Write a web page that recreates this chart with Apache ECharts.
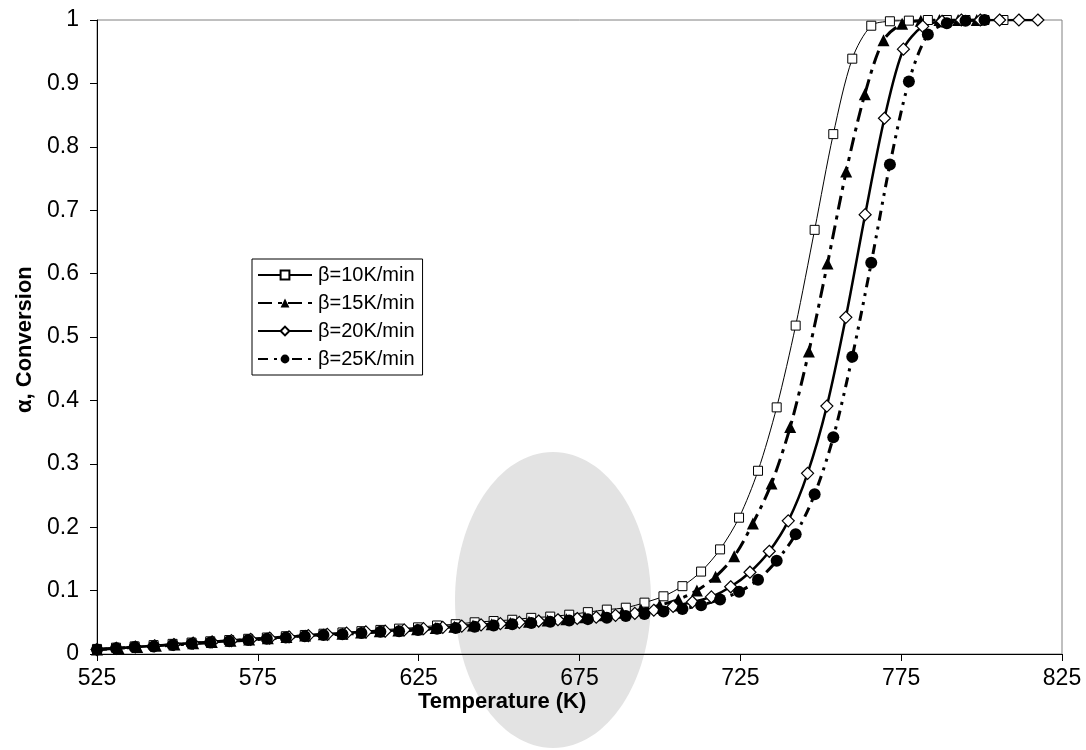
<!DOCTYPE html>
<html>
<head>
<meta charset="utf-8">
<script src="https://cdn.jsdelivr.net/npm/echarts@6/dist/echarts.min.js"></script>
<style>html,body{margin:0;padding:0;background:#fff;}#c{width:1086px;height:750px;}</style>
</head>
<body>
<div id="c"></div>
<script>
// ---- data ----
const seriesNames = ['β=10K/min', 'β=15K/min', 'β=20K/min', 'β=25K/min'];
const xTicks = [525, 575, 625, 675, 725, 775, 825];
const yTicks = [0, 0.1, 0.2, 0.3, 0.4, 0.5, 0.6, 0.7, 0.8, 0.9, 1];

const temp10 = [525.0,530.9,536.7,542.6,548.5,554.4,560.2,566.1,572.0,577.8,583.7,589.6,595.4,601.3,607.2,613.1,618.9,624.8,630.7,636.5,642.4,648.3,654.1,660.0,665.9,671.8,677.6,683.5,689.4,695.2,701.1,707.0,712.8,718.7,724.6,730.5,736.3,742.2,748.1,753.9,759.8,765.7,771.5,777.4,783.3,789.2,795.0,800.9,806.8];
const alpha10 = [0.008,0.010,0.012,0.014,0.016,0.018,0.020,0.022,0.024,0.026,0.028,0.030,0.032,0.034,0.036,0.038,0.040,0.042,0.045,0.047,0.050,0.052,0.054,0.057,0.059,0.062,0.066,0.070,0.073,0.081,0.091,0.107,0.130,0.165,0.215,0.289,0.389,0.518,0.669,0.820,0.939,0.991,0.998,0.999,1.0,1.0,1.0,1.0,1.0];

const temp15 = [525.0,531.7,537.5,543.3,549.1,554.9,560.7,566.5,572.3,578.1,583.9,589.7,595.5,601.3,607.1,612.9,618.7,624.5,630.3,636.1,641.9,647.7,653.5,659.3,665.1,670.9,676.7,682.5,688.3,694.1,699.9,705.7,711.5,717.3,723.1,728.9,734.7,740.5,746.3,752.1,757.9,763.7,769.5,775.3,781.1,786.9,792.7,798.5];
const alpha15 = [0.007,0.009,0.011,0.013,0.015,0.017,0.019,0.021,0.023,0.025,0.027,0.029,0.031,0.032,0.034,0.036,0.037,0.039,0.041,0.043,0.045,0.047,0.049,0.051,0.053,0.055,0.058,0.061,0.065,0.070,0.077,0.086,0.100,0.122,0.154,0.206,0.269,0.358,0.477,0.616,0.761,0.883,0.968,0.994,0.999,1.0,1.0,1.0];

const temp20 = [525.0,531.0,536.9,542.9,548.9,554.9,560.8,566.8,572.8,578.7,584.7,590.7,596.6,602.6,608.6,614.6,620.5,626.5,632.5,638.4,644.4,650.4,656.3,662.3,668.3,674.3,680.2,686.2,692.2,698.1,704.1,710.1,716.0,722.0,728.0,734.0,739.9,745.9,751.9,757.8,763.8,769.8,775.7,781.7,787.7,793.7,799.6,805.6,811.6,817.5];
const alpha20 = [0.007,0.009,0.011,0.013,0.015,0.017,0.019,0.021,0.023,0.025,0.027,0.029,0.031,0.033,0.035,0.036,0.038,0.040,0.042,0.044,0.046,0.048,0.050,0.052,0.054,0.056,0.058,0.061,0.064,0.069,0.075,0.082,0.090,0.106,0.129,0.162,0.210,0.285,0.391,0.531,0.693,0.845,0.954,0.990,0.998,1.0,1.0,1.0,1.0,1.0];

const temp25 = [525.0,530.9,536.7,542.6,548.5,554.4,560.2,566.1,572.0,577.8,583.7,589.6,595.4,601.3,607.2,613.1,618.9,624.8,630.7,636.5,642.4,648.3,654.1,660.0,665.9,671.8,677.6,683.5,689.4,695.2,701.1,707.0,712.8,718.7,724.6,730.5,736.3,742.2,748.1,753.9,759.8,765.7,771.5,777.4,783.3,789.2,795.0,800.9];
const alpha25 = [0.007,0.009,0.011,0.012,0.014,0.016,0.018,0.020,0.022,0.024,0.026,0.028,0.030,0.031,0.033,0.035,0.036,0.038,0.040,0.041,0.043,0.045,0.047,0.049,0.051,0.053,0.055,0.057,0.060,0.063,0.067,0.071,0.077,0.086,0.098,0.117,0.147,0.189,0.252,0.342,0.469,0.617,0.772,0.903,0.977,0.995,0.999,1.0];

function pairs(xs, ys) { return xs.map((x, i) => [x, ys[i]]); }

const FONT = 'Liberation Sans, Arial, sans-serif';
const chart = echarts.init(document.getElementById('c'), null, { renderer: 'canvas' });

const option = {
  backgroundColor: '#ffffff',
  animation: false,
  textStyle: { fontFamily: FONT, color: '#000' },
  grid: { left: 97, right: 24, top: 20, bottom: 96, show: true, borderColor: '#808080', borderWidth: 1, backgroundColor: 'transparent' },
  xAxis: {
    type: 'value', min: xTicks[0], max: xTicks[xTicks.length - 1], interval: xTicks[1] - xTicks[0],
    axisLine: { show: true, lineStyle: { color: '#000', width: 1 } },
    axisTick: { show: true, inside: false, length: 7, lineStyle: { color: '#000' } },
    splitLine: { show: false },
    axisLabel: { color: '#000', fontSize: 23, fontFamily: FONT, margin: 13 }
  },
  yAxis: {
    type: 'value', min: yTicks[0], max: yTicks[yTicks.length - 1], interval: 0.1,
    axisLine: { show: true, lineStyle: { color: '#000', width: 1 } },
    axisTick: { show: true, inside: false, length: 7, lineStyle: { color: '#000' } },
    splitLine: { show: false },
    axisLabel: { color: '#000', fontSize: 23, fontFamily: FONT, margin: 18 }
  },
  legend: {
    orient: 'vertical', left: 252, top: 259,
    data: seriesNames,
    itemWidth: 54, itemHeight: 11, itemGap: 8,
    padding: [6, 8, 6, 5],
    backgroundColor: '#fff', borderColor: '#000', borderWidth: 1, borderRadius: 0,
    textStyle: { fontSize: 20, lineHeight: 20, color: '#000', fontFamily: FONT, padding: [0, 0, 0, 1] }
  },
  graphic: [
    { type: 'ellipse', z: -1, silent: true,
      shape: { cx: 553, cy: 600, rx: 98, ry: 148 },
      style: { fill: '#e3e3e3' } },
    { type: 'text', left: 418, top: 691, z: 10,
      style: { text: 'Temperature (K)', font: 'bold 22px ' + FONT, fill: '#000' } },
    { type: 'text', z: 10, rotation: Math.PI / 2, x: 14, y: 413,
      style: { text: 'α, Conversion', font: 'bold 22px ' + FONT, fill: '#000' } }
  ],
  series: [
    { name: seriesNames[0], type: 'line', data: pairs(temp10, alpha10), smooth: 0.3,
      symbol: 'rect', symbolSize: 9, showAllSymbol: true,
      lineStyle: { color: '#000', width: 1, type: 'solid' },
      itemStyle: { color: '#fff', borderColor: '#000', borderWidth: 1 } },
    { name: seriesNames[1], type: 'line', data: pairs(temp15, alpha15), smooth: 0.3,
      symbol: 'triangle', symbolSize: 12, showAllSymbol: true,
      lineStyle: { color: '#000', width: 3, type: [14, 6, 4, 6] },
      itemStyle: { color: '#000', borderColor: '#000', borderWidth: 0 } },
    { name: seriesNames[2], type: 'line', data: pairs(temp20, alpha20), smooth: 0.3,
      symbol: 'diamond', symbolSize: [12, 12], showAllSymbol: true,
      lineStyle: { color: '#000', width: 2.5, type: 'solid' },
      itemStyle: { color: '#fff', borderColor: '#000', borderWidth: 1.2 } },
    { name: seriesNames[3], type: 'line', data: pairs(temp25, alpha25), smooth: 0.3,
      symbol: 'circle', symbolSize: 12, showAllSymbol: true,
      lineStyle: { color: '#000', width: 3, type: [10, 6, 3, 6, 3, 6] },
      itemStyle: { color: '#000', borderColor: '#000', borderWidth: 0 } }
  ]
};
chart.setOption(option);
</script>
</body>
</html>
